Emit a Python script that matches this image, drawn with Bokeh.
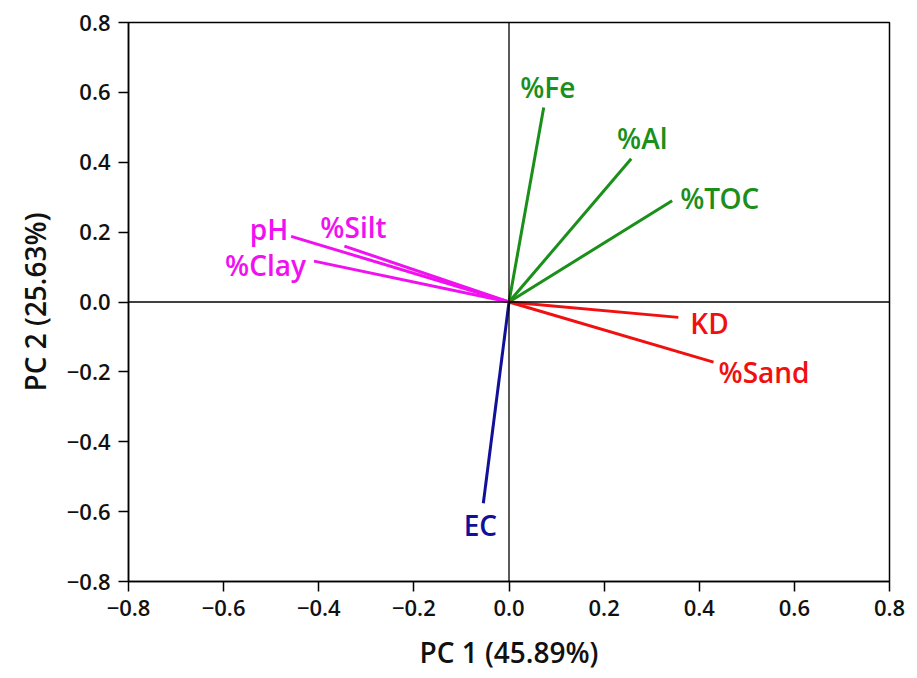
from bokeh.plotting import figure
from bokeh.models import ColumnDataSource, Span, FixedTicker, CustomJSTickFormatter
from bokeh.core.properties import value
from bokeh.embed import file_html
from bokeh.resources import INLINE

# Loadings
variables = ["%Fe", "%Al", "%TOC", "KD", "%Sand", "EC", "pH", "%Silt", "%Clay"]
pc1 = [0.073, 0.257, 0.343, 0.356, 0.430, -0.054, -0.458, -0.346, -0.410]
pc2 = [0.557, 0.410, 0.290, -0.044, -0.172, -0.576, 0.188, 0.160, 0.117]
groups = ["green", "green", "green", "red", "red", "blue", "magenta", "magenta", "magenta"]
ticks = [-0.8, -0.6, -0.4, -0.2, 0.0, 0.2, 0.4, 0.6, 0.8]

palette = {"green": "#1a8f1a", "red": "#f01010", "blue": "#10109a", "magenta": "#f010f0"}
# label styling (screen offsets / alignment)
lab_align = ["center", "center", "left", "left", "left", "center", "right", "center", "right"]
lab_dx = [4, 11, 8, 12, 5, -3, -3, 9, -8]
lab_dy = [-20, -21, -3, 6, 10, 22, -7, -19, 4]

colors = [palette[g] for g in groups]
src = ColumnDataSource(dict(
    x0=[0.0] * len(pc1), y0=[0.0] * len(pc2), x1=pc1, y1=pc2,
    name=variables, color=colors, align=lab_align, dx=lab_dx, dy=lab_dy,
))

p = figure(frame_width=761, frame_height=559, width=917, height=678,
           x_range=(-0.8, 0.8), y_range=(-0.8, 0.8),
           output_backend="svg", toolbar_location=None,
           min_border_left=128, min_border_right=28, min_border_top=22, min_border_bottom=97)
p.background_fill_color = "white"
p.border_fill_color = "white"
p.outline_line_color = "black"
p.outline_line_width = 1.5
p.xgrid.visible = False
p.ygrid.visible = False

p.add_layout(Span(location=0, dimension="height", line_color="black", line_width=1.3))
p.add_layout(Span(location=0, dimension="width", line_color="black", line_width=1.3))

p.segment(x0="x0", y0="y0", x1="x1", y1="y1", line_color="color", line_width=3, source=src)
p.text(x="x1", y="y1", text="name", text_color="color", text_align="align",
       text_baseline="middle", x_offset="dx", y_offset="dy",
       text_font=value("Open Sans SemiBold"), text_font_style="normal",
       text_font_size="28px", source=src)

for ax in (p.xaxis, p.yaxis):
    ax.ticker = FixedTicker(ticks=ticks)
    ax.minor_tick_line_color = None
    ax.major_tick_out = 10
    ax.major_tick_in = 0
    ax.major_tick_line_width = 1.5
    ax.axis_line_width = 1.5
    ax.major_label_text_font = "Open Sans SemiBold"
    ax.major_label_text_font_size = "22px"
    ax.major_label_text_font_style = "normal"
    ax.major_label_text_color = "#111111"
    ax.axis_label_text_font = "Open Sans SemiBold"
    ax.axis_label_text_font_size = "28px"
    ax.axis_label_text_font_style = "normal"
    ax.axis_label_text_color = "#111111"

fmt = CustomJSTickFormatter(code="return (tick < 0 ? '\u2212' : '') + Math.abs(tick).toFixed(1);")
p.xaxis.formatter = fmt
p.yaxis.formatter = fmt
p.xaxis.axis_label = "PC 1 (45.89%)"
p.yaxis.axis_label = "PC 2 (25.63%)"
p.xaxis.major_label_standoff = 8
p.yaxis.major_label_standoff = 8
p.xaxis.axis_label_standoff = 14
p.yaxis.axis_label_standoff = 10

open("out.html", "w").write(file_html(p, INLINE))
